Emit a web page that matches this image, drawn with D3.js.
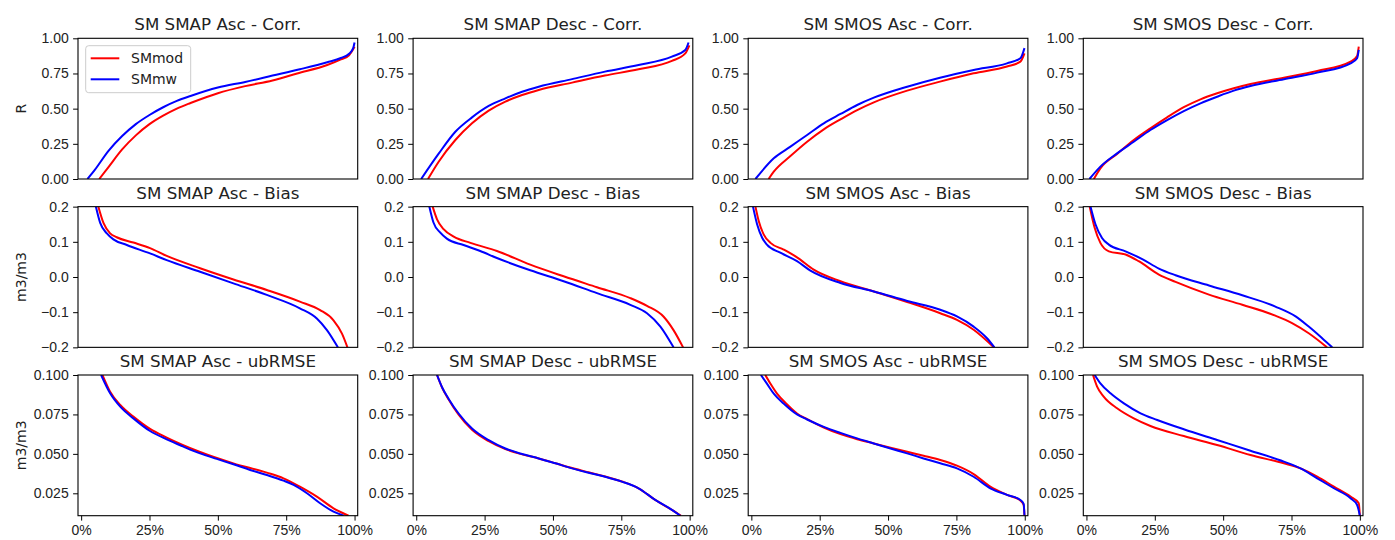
<!DOCTYPE html>
<html>
<head>
<meta charset="utf-8">
<script src="https://cdn.jsdelivr.net/npm/d3@7"></script>
<style>
  body { margin: 0; background: #fff; }
  svg { font-family: "DejaVu Sans", sans-serif; }
</style>
</head>
<body>
<svg width="1395" height="540"></svg>
<script>
// panel titles, one per column / row
var sensors = ['SM SMAP Asc', 'SM SMAP Desc', 'SM SMOS Asc', 'SM SMOS Desc'];
var metrics = ['Corr.', 'Bias', 'ubRMSE'];
var yLabels = ['R', 'm3/m3', 'm3/m3'];
var seriesNames = ['SMmod', 'SMmw'];

// tick values
var xTicks = [0, 0.25, 0.5, 0.75, 1];
var corrTicks = [0, 0.25, 0.5, 0.75, 1];
var biasTicks = [-0.2, -0.1, 0, 0.1, 0.2];
var rmseTicks = [0.025, 0.05, 0.075, 0.1];

// sorted curves: [fraction of pixels, value]
var smapAscCorrMod = [[0.066,0],[0.1,0.085],[0.15,0.21],[0.2,0.31],[0.25,0.39],[0.3,0.45],[0.35,0.5],[0.4,0.54],[0.5,0.61],[0.6,0.66],[0.7,0.7],[0.79,0.75],[0.9,0.81],[0.95,0.85],[0.98,0.88],[1,0.94]];
var smapAscCorrMw = [[0.023,0],[0.05,0.065],[0.1,0.2],[0.15,0.305],[0.2,0.39],[0.25,0.455],[0.3,0.51],[0.35,0.555],[0.4,0.59],[0.5,0.65],[0.6,0.69],[0.7,0.735],[0.8,0.78],[0.9,0.83],[0.95,0.86],[0.98,0.89],[0.995,0.93],[1,0.97]];
var smapDescCorrMod = [[0.043,0],[0.082,0.123],[0.143,0.277],[0.204,0.396],[0.265,0.486],[0.326,0.55],[0.387,0.597],[0.448,0.633],[0.57,0.685],[0.69,0.735],[0.813,0.78],[0.935,0.839],[0.984,0.893],[0.999,0.95]];
var smapDescCorrMw = [[0.018,0],[0.082,0.18],[0.143,0.336],[0.204,0.438],[0.265,0.519],[0.326,0.573],[0.387,0.62],[0.448,0.656],[0.57,0.71],[0.69,0.763],[0.813,0.81],[0.935,0.87],[0.984,0.917],[0.996,0.97]];
var smosAscCorrMod = [[0.063,0],[0.082,0.052],[0.143,0.163],[0.204,0.265],[0.265,0.353],[0.326,0.424],[0.387,0.49],[0.448,0.545],[0.57,0.628],[0.69,0.692],[0.813,0.751],[0.935,0.8],[0.984,0.834],[0.999,0.893]];
var smosAscCorrMw = [[0.015,0],[0.082,0.147],[0.143,0.23],[0.204,0.313],[0.265,0.396],[0.326,0.462],[0.387,0.526],[0.448,0.578],[0.57,0.656],[0.69,0.72],[0.813,0.775],[0.935,0.822],[0.984,0.858],[0.999,0.93]];
var smosDescCorrMod = [[0.027,0],[0.051,0.076],[0.112,0.178],[0.173,0.277],[0.234,0.36],[0.295,0.438],[0.356,0.51],[0.417,0.566],[0.478,0.609],[0.539,0.645],[0.6,0.675],[0.722,0.72],[0.844,0.768],[0.966,0.834],[0.99,0.874],[0.996,0.94]];
var smosDescCorrMw = [[0.011,0],[0.051,0.088],[0.112,0.182],[0.173,0.265],[0.234,0.348],[0.295,0.419],[0.356,0.483],[0.417,0.538],[0.478,0.585],[0.539,0.628],[0.6,0.661],[0.722,0.709],[0.844,0.756],[0.966,0.822],[0.99,0.858],[0.996,0.917]];

var smapAscBiasMod = [[0.063,0.2],[0.082,0.153],[0.106,0.124],[0.13,0.113],[0.191,0.098],[0.252,0.082],[0.313,0.06],[0.435,0.025],[0.557,-0.007],[0.679,-0.037],[0.8,-0.07],[0.874,-0.094],[0.923,-0.123],[0.954,-0.161],[0.974,-0.2]];
var smapAscBiasMw = [[0.054,0.2],[0.07,0.153],[0.094,0.124],[0.118,0.107],[0.167,0.091],[0.252,0.067],[0.313,0.048],[0.435,0.015],[0.557,-0.018],[0.679,-0.051],[0.8,-0.089],[0.862,-0.118],[0.899,-0.151],[0.939,-0.2]];
var smapDescBiasMod = [[0.06,0.2],[0.076,0.164],[0.1,0.136],[0.137,0.115],[0.198,0.097],[0.295,0.074],[0.417,0.035],[0.539,0.002],[0.661,-0.029],[0.783,-0.06],[0.844,-0.082],[0.905,-0.113],[0.941,-0.151],[0.976,-0.2]];
var smapDescBiasMw = [[0.048,0.2],[0.063,0.155],[0.088,0.126],[0.112,0.109],[0.173,0.091],[0.234,0.074],[0.295,0.054],[0.417,0.019],[0.539,-0.012],[0.661,-0.046],[0.783,-0.079],[0.844,-0.103],[0.893,-0.141],[0.941,-0.2]];
var smosAscBiasMod = [[0.015,0.2],[0.027,0.159],[0.045,0.121],[0.07,0.097],[0.118,0.078],[0.167,0.056],[0.228,0.021],[0.326,-0.012],[0.448,-0.041],[0.57,-0.071],[0.691,-0.103],[0.752,-0.122],[0.813,-0.15],[0.887,-0.2]];
var smosAscBiasMw = [[0.006,0.2],[0.021,0.15],[0.04,0.111],[0.057,0.092],[0.106,0.069],[0.167,0.045],[0.216,0.018],[0.326,-0.017],[0.448,-0.041],[0.57,-0.068],[0.691,-0.093],[0.752,-0.112],[0.813,-0.141],[0.862,-0.174],[0.889,-0.2]];
var smosDescBiasMod = [[0.012,0.2],[0.03,0.14],[0.051,0.097],[0.082,0.073],[0.143,0.064],[0.191,0.045],[0.265,0.007],[0.326,-0.014],[0.448,-0.05],[0.57,-0.079],[0.691,-0.11],[0.752,-0.131],[0.813,-0.16],[0.88,-0.2]];
var smosDescBiasMw = [[0.015,0.2],[0.033,0.15],[0.057,0.111],[0.082,0.092],[0.143,0.073],[0.204,0.051],[0.265,0.024],[0.326,0.005],[0.448,-0.024],[0.57,-0.052],[0.691,-0.084],[0.765,-0.112],[0.813,-0.141],[0.862,-0.174],[0.899,-0.2]];

var smapAscRmseMod = [[0.078,0.1],[0.106,0.0894],[0.143,0.081],[0.191,0.0736],[0.252,0.0658],[0.313,0.0603],[0.435,0.0512],[0.557,0.044],[0.679,0.0381],[0.74,0.0345],[0.8,0.0292],[0.862,0.0229],[0.923,0.0155],[0.978,0.0108]];
var smapAscRmseMw = [[0.073,0.1],[0.106,0.0884],[0.143,0.0799],[0.191,0.0725],[0.252,0.0645],[0.313,0.0592],[0.374,0.0546],[0.435,0.0503],[0.496,0.0468],[0.557,0.0434],[0.618,0.0398],[0.679,0.0366],[0.74,0.033],[0.777,0.0303],[0.826,0.025],[0.874,0.0187],[0.923,0.0134],[0.96,0.0108]];
var smapDescRmseMod = [[0.076,0.1],[0.094,0.0922],[0.118,0.0846],[0.155,0.0748],[0.204,0.0652],[0.265,0.058],[0.326,0.053],[0.387,0.0497],[0.448,0.0471],[0.509,0.0441],[0.57,0.041],[0.63,0.0383],[0.691,0.0357],[0.752,0.0325],[0.813,0.0282],[0.874,0.0208],[0.935,0.0145],[0.968,0.0108]];
var smapDescRmseMw = [[0.076,0.1],[0.094,0.0924],[0.118,0.085],[0.155,0.0756],[0.204,0.0661],[0.265,0.0587],[0.326,0.0534],[0.387,0.0499],[0.448,0.0471],[0.509,0.044],[0.57,0.0408],[0.63,0.038],[0.691,0.0355],[0.752,0.0324],[0.813,0.0282],[0.874,0.0208],[0.935,0.0145],[0.966,0.0108]];
var smosAscRmseMod = [[0.051,0.1],[0.07,0.0945],[0.094,0.0882],[0.13,0.0815],[0.167,0.0756],[0.204,0.072],[0.265,0.0667],[0.326,0.0625],[0.387,0.0593],[0.448,0.0566],[0.509,0.0539],[0.57,0.0513],[0.63,0.0488],[0.691,0.0461],[0.752,0.0425],[0.813,0.0372],[0.874,0.0292],[0.935,0.024],[0.984,0.0204],[0.996,0.0176],[0.999,0.0108]];
var smosAscRmseMw = [[0.035,0.1],[0.057,0.0945],[0.082,0.0882],[0.118,0.0819],[0.167,0.075],[0.204,0.0718],[0.265,0.0671],[0.326,0.0633],[0.387,0.0598],[0.448,0.0566],[0.509,0.0534],[0.57,0.0503],[0.63,0.0471],[0.691,0.044],[0.752,0.0408],[0.813,0.0355],[0.874,0.0282],[0.935,0.024],[0.984,0.0208],[0.996,0.0183],[0.999,0.0108]];
var smosDescRmseMod = [[0.024,0.1],[0.039,0.0926],[0.063,0.0863],[0.112,0.0789],[0.173,0.0725],[0.234,0.0677],[0.356,0.0613],[0.478,0.0556],[0.6,0.0493],[0.722,0.044],[0.783,0.0408],[0.844,0.0356],[0.905,0.0292],[0.966,0.0229],[0.996,0.0187],[1,0.0108]];
var smosDescRmseMw = [[0.03,0.1],[0.051,0.0947],[0.088,0.0884],[0.137,0.082],[0.198,0.0757],[0.259,0.0715],[0.356,0.0656],[0.478,0.0588],[0.6,0.052],[0.722,0.0451],[0.783,0.0408],[0.844,0.0345],[0.905,0.0282],[0.966,0.0218],[0.99,0.0176],[1,0.0108]];

// grid of panels: rows = metric, cols = sensor; each cell [SMmod, SMmw]
var grid = [
  [[smapAscCorrMod, smapAscCorrMw], [smapDescCorrMod, smapDescCorrMw], [smosAscCorrMod, smosAscCorrMw], [smosDescCorrMod, smosDescCorrMw]],
  [[smapAscBiasMod, smapAscBiasMw], [smapDescBiasMod, smapDescBiasMw], [smosAscBiasMod, smosAscBiasMw], [smosDescBiasMod, smosDescBiasMw]],
  [[smapAscRmseMod, smapAscRmseMw], [smapDescRmseMod, smapDescRmseMw], [smosAscRmseMod, smosAscRmseMw], [smosDescRmseMod, smosDescRmseMw]]
];

var colors = ['#ff0000', '#0000ff'];
var yDomains = [[0, 1], [-0.2, 0.2], [0.0108, 0.1]];
var yTickSets = [corrTicks, biasTicks, rmseTicks];
var yFormats = [d3.format('.2f'), d3.format('.1f'), d3.format('.3f')];

var svg = d3.select('svg');

// panel layout
var left0 = 78, colStep = 335.1, pw = 279.7;
var top0 = 38.3, rowStep = 168.35, ph = 140.7;
var fontTick = 14, fontTitle = 16.7;

var x = d3.scaleLinear().domain([-0.0115, 1.0115]).range([0, pw]);

grid.forEach(function(row, r) {
  var y = d3.scaleLinear().domain(yDomains[r]).range([ph, 0]);
  row.forEach(function(cell, c) {
    var g = svg.append('g')
      .attr('transform', 'translate(' + (left0 + c * colStep) + ',' + (top0 + r * rowStep) + ')');

    var clipId = 'clip-' + r + '-' + c;
    g.append('clipPath').attr('id', clipId)
      .append('rect').attr('width', pw).attr('height', ph);

    var line = d3.line()
      .x(function(d) { return x(d[0]); })
      .y(function(d) { return y(d[1]); })
      .curve(d3.curveMonotoneX);

    g.append('g').attr('clip-path', 'url(#' + clipId + ')')
      .selectAll('path')
      .data(cell)
      .enter()
      .append('path')
      .attr('d', line)
      .attr('fill', 'none')
      .attr('stroke', function(d, i) { return colors[i]; })
      .attr('stroke-width', 2)
      .attr('stroke-linejoin', 'round');

    // y axis
    var yAxis = g.append('g')
      .call(d3.axisLeft(y).tickValues(yTickSets[r]).tickFormat(yFormats[r]).tickSize(4.9).tickPadding(4.4));
    yAxis.select('.domain').remove();
    yAxis.selectAll('text').attr('fill', '#222').style('font-size', fontTick + 'px');

    // x axis only on the bottom row
    if (r === grid.length - 1) {
      var xAxis = g.append('g')
        .attr('transform', 'translate(0,' + ph + ')')
        .call(d3.axisBottom(x).tickValues(xTicks).tickFormat(d3.format('.0%')).tickSize(4.9).tickPadding(4.4));
      xAxis.select('.domain').remove();
      xAxis.selectAll('text').attr('fill', '#222').style('font-size', fontTick + 'px');
    }

    // frame
    g.append('rect')
      .attr('width', pw).attr('height', ph)
      .attr('fill', 'none').attr('stroke', '#000').attr('stroke-width', 1.1);

    // title
    g.append('text')
      .attr('x', pw / 2).attr('y', -8)
      .attr('text-anchor', 'middle')
      .attr('fill', '#222')
      .style('font-size', fontTitle + 'px')
      .text(sensors[c] + ' - ' + metrics[r]);

    if (c === 0) {
      g.append('text')
        .attr('transform', 'translate(-52,' + (ph / 2) + ') rotate(-90)')
        .attr('text-anchor', 'middle')
        .attr('fill', '#222')
        .style('font-size', fontTick + 'px')
        .text(yLabels[r]);
    }

    // legend in the first panel
    if (r === 0 && c === 0) {
      var lg = g.append('g').attr('transform', 'translate(7.7,7.4)');
      lg.append('rect')
        .attr('width', 105).attr('height', 47)
        .attr('rx', 3)
        .attr('fill', '#fff').attr('fill-opacity', 0.8)
        .attr('stroke', '#ccc').attr('stroke-width', 1);
      seriesNames.forEach(function(name, i) {
        var ly = 12.6 + i * 21;
        lg.append('line')
          .attr('x1', 5).attr('x2', 33.6)
          .attr('y1', ly).attr('y2', ly)
          .attr('stroke', colors[i]).attr('stroke-width', 2);
        lg.append('text')
          .attr('x', 45.3).attr('y', ly).attr('dy', '0.35em')
          .attr('fill', '#222')
          .style('font-size', fontTick + 'px')
          .text(name);
      });
    }
  });
});
</script>
</body>
</html>
